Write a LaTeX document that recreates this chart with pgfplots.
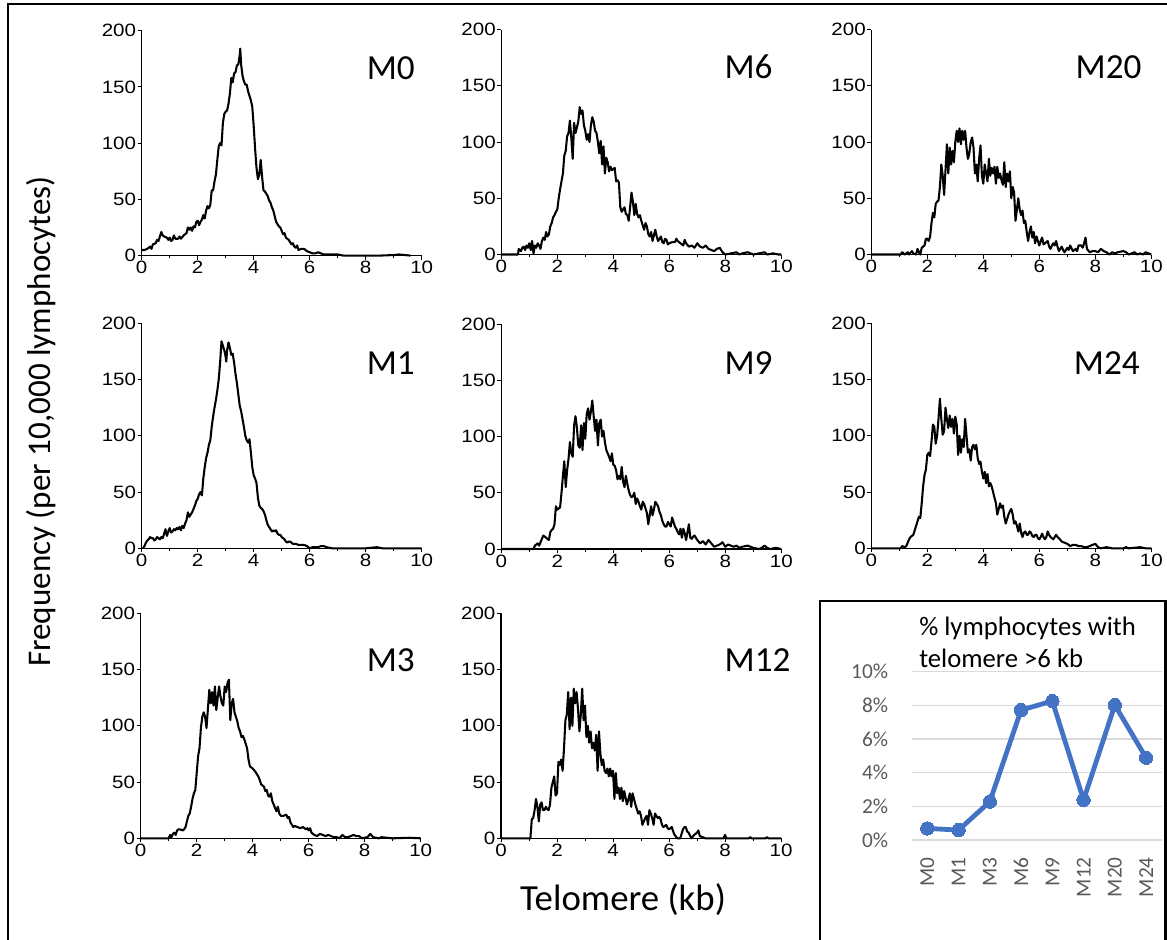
\documentclass[border=0pt]{standalone}
\usepackage{pgfplots}
\pgfplotsset{compat=1.18}
\usepackage{fontspec}
\setmainfont{Carlito}
\newfontfamily\tickfont[FakeStretch=1.15]{Liberation Sans}
\definecolor{xlblue}{HTML}{4472C4}
\definecolor{xlgrid}{HTML}{D9D9D9}
\definecolor{xltext}{HTML}{595959}

\pgfplotsset{
  hist/.style={
    scale only axis, width=210pt, height=168.75pt,
    anchor=south west,
    xmin=0, xmax=10, ymin=0, ymax=200,
    axis x line*=bottom, axis y line*=left,
    xtick={0,2,...,10}, ytick={0,50,...,200},
    minor xtick={1,3,...,9},
    tick align=outside,
    major tick length=3pt, minor tick length=2pt,
    tick style={black, line width=0.6pt},
    axis line style={black, line width=0.9pt},
    /pgf/number format/assume math mode=true,
    ticklabel style={font=\tickfont\fontsize{13.4pt}{15pt}\selectfont, inner sep=1pt},
    clip=false,
  },
  curve/.style={black, line width=1.55pt, line join=round, no marks},
}

\begin{document}
\begin{tikzpicture}
\useasboundingbox (0,0) rectangle (1167*0.75pt,-939*0.75pt);

% ---- row 1 ----
\begin{axis}[hist, at={(141.7*0.75pt,-255.6*0.75pt)}]
\addplot[curve] coordinates {(0,5)(0.1,5)(0.2,6)(0.3,8)(0.35,6)(0.4,10)(0.5,11)(0.55,14)(0.6,13)(0.65,17)(0.7,21)(0.75,18)(0.8,17)(0.9,16)(0.95,14)(1.0,16)(1.05,13)(1.1,14)(1.15,18)(1.2,15)(1.3,15)(1.35,17)(1.4,15)(1.5,18)(1.6,20)(1.65,25)(1.7,23)(1.75,25)(1.8,22)(1.85,26)(1.9,25)(1.95,30)(2.0,31)(2.05,27)(2.1,30)(2.15,32)(2.2,36)(2.25,33)(2.3,40)(2.35,44)(2.4,42)(2.45,45)(2.5,58)(2.55,58)(2.6,66)(2.65,72)(2.7,85)(2.75,97)(2.8,100)(2.85,98)(2.9,118)(2.95,126)(3.0,128)(3.05,129)(3.1,135)(3.15,144)(3.2,158)(3.25,154)(3.3,162)(3.35,163)(3.4,169)(3.45,170)(3.5,178)(3.52,184)(3.55,170)(3.6,160)(3.65,155)(3.7,152)(3.75,152)(3.8,146)(3.85,142)(3.9,138)(3.95,132)(4.0,115)(4.05,95)(4.1,78)(4.15,68)(4.2,72)(4.25,85)(4.3,70)(4.35,58)(4.4,57)(4.45,55)(4.5,53)(4.55,49)(4.6,47)(4.65,43)(4.7,40)(4.75,35)(4.8,30)(4.85,28)(4.9,26)(4.95,25)(5.0,22)(5.05,19)(5.1,20)(5.15,16)(5.2,15)(5.25,14)(5.3,12)(5.35,10)(5.4,11)(5.45,8)(5.5,7)(5.55,9)(5.6,5)(5.7,6)(5.8,6)(5.9,4)(6.0,3)(6.1,2)(6.2,2)(6.3,3)(6.4,2)(6.5,1)(6.6,1)(6.8,1)(7.0,1)(7.2,0)(8.0,0)(8.5,0)(9.0,0.5)(9.2,1)(9.4,0.5)(9.6,0)};
\end{axis}

\begin{axis}[hist, at={(501.3*0.75pt,-254.5*0.75pt)}]
\addplot[curve] coordinates {(0,0)(0.6,0)(0.62,5)(0.7,3)(0.75,6)(0.8,7)(0.85,4)(0.9,8)(0.95,6)(1.0,10)(1.05,4)(1.1,12)(1.15,1)(1.2,8)(1.25,6)(1.3,10)(1.35,8)(1.4,5)(1.45,12)(1.5,15)(1.55,13)(1.6,20)(1.65,16)(1.7,18)(1.75,25)(1.8,28)(1.85,33)(1.9,35)(1.95,38)(2.0,40)(2.05,50)(2.1,58)(2.15,65)(2.2,72)(2.25,88)(2.3,92)(2.35,105)(2.4,108)(2.45,119)(2.5,104)(2.55,85)(2.6,117)(2.65,108)(2.7,113)(2.75,118)(2.8,131)(2.85,125)(2.9,128)(2.95,115)(3.0,110)(3.05,102)(3.1,107)(3.15,100)(3.2,115)(3.25,122)(3.3,118)(3.35,110)(3.4,108)(3.45,100)(3.5,90)(3.55,101)(3.6,80)(3.65,96)(3.7,72)(3.75,86)(3.8,82)(3.85,74)(3.9,78)(3.95,75)(4.0,76)(4.05,77)(4.1,65)(4.15,66)(4.2,64)(4.25,42)(4.3,38)(4.35,40)(4.4,42)(4.45,36)(4.5,35)(4.55,30)(4.6,42)(4.65,55)(4.7,47)(4.75,35)(4.8,45)(4.85,36)(4.9,33)(4.95,35)(5.0,30)(5.05,26)(5.1,22)(5.15,28)(5.2,25)(5.25,18)(5.3,16)(5.35,20)(5.4,12)(5.45,17)(5.5,22)(5.55,16)(5.6,12)(5.65,14)(5.7,16)(5.75,11)(5.8,10)(5.85,14)(5.9,13)(5.95,9)(6.0,10)(6.1,11)(6.2,11)(6.25,14)(6.3,12)(6.4,10)(6.5,8)(6.55,13)(6.6,10)(6.7,7)(6.8,8)(6.9,6)(7.0,10)(7.1,7)(7.2,6)(7.3,8)(7.4,5)(7.5,4)(7.6,3)(7.7,5)(7.8,6)(7.9,2)(8.0,0)(8.2,1)(8.4,2)(8.5,0)(8.6,1)(8.8,2)(9.0,0)(9.2,1)(9.4,2)(9.5,0)(9.7,1)(9.9,0)(10,0)};
\end{axis}

\begin{axis}[hist, at={(871.3*0.75pt,-254.5*0.75pt)}]
\addplot[curve] coordinates {(0,0)(1.05,0)(1.1,2)(1.2,0)(1.3,2)(1.35,0)(1.45,3)(1.5,1)(1.6,0)(1.65,5)(1.7,2)(1.75,0)(1.8,6)(1.85,7)(1.9,8)(1.95,14)(2.0,14)(2.05,12)(2.1,16)(2.15,28)(2.2,37)(2.25,33)(2.3,45)(2.35,47)(2.4,48)(2.45,60)(2.5,80)(2.55,70)(2.6,53)(2.65,75)(2.7,98)(2.75,72)(2.8,95)(2.85,80)(2.9,92)(2.95,82)(3.0,100)(3.05,110)(3.1,100)(3.15,112)(3.2,98)(3.25,110)(3.3,102)(3.35,110)(3.4,95)(3.45,85)(3.5,90)(3.55,100)(3.6,104)(3.65,95)(3.7,72)(3.75,80)(3.8,65)(3.85,85)(3.9,97)(3.95,70)(4.0,63)(4.05,80)(4.1,72)(4.15,65)(4.2,85)(4.25,70)(4.3,77)(4.35,72)(4.4,78)(4.45,63)(4.5,78)(4.55,68)(4.6,72)(4.65,66)(4.7,62)(4.75,82)(4.8,60)(4.85,72)(4.9,65)(4.95,74)(5.0,50)(5.05,60)(5.1,55)(5.15,30)(5.2,40)(5.25,50)(5.3,40)(5.35,35)(5.4,39)(5.45,28)(5.5,30)(5.55,20)(5.6,12)(5.65,20)(5.7,25)(5.75,15)(5.8,20)(5.85,10)(5.9,16)(5.95,12)(6.0,8)(6.05,12)(6.1,15)(6.15,9)(6.2,10)(6.3,12)(6.35,7)(6.4,5)(6.45,8)(6.5,10)(6.55,8)(6.6,12)(6.65,7)(6.7,3)(6.8,7)(6.85,4)(6.9,2)(7.0,6)(7.05,4)(7.1,8)(7.2,3)(7.3,5)(7.35,3)(7.4,8)(7.5,8)(7.55,6)(7.6,10)(7.65,15)(7.7,5)(7.8,2)(7.9,3)(8.0,3)(8.1,2)(8.2,5)(8.3,3)(8.4,2)(8.5,0)(8.6,2)(8.7,1)(8.8,2)(9.0,3)(9.1,2)(9.2,0)(9.4,2)(9.5,0)(9.6,1)(9.7,0)(9.8,2)(9.9,1)(10,0)};
\end{axis}

% ---- row 2 ----
\begin{axis}[hist, at={(141.7*0.75pt,-548.3*0.75pt)}]
\addplot[curve] coordinates {(0.05,0)(0.1,2)(0.15,5)(0.2,7)(0.25,8)(0.3,10)(0.35,9)(0.4,9)(0.45,7)(0.5,8)(0.55,10)(0.6,9)(0.65,8)(0.7,10)(0.75,9)(0.8,13)(0.85,17)(0.9,11)(0.95,15)(1.0,18)(1.05,14)(1.1,15)(1.15,17)(1.2,16)(1.25,18)(1.3,17)(1.35,19)(1.4,16)(1.45,20)(1.5,18)(1.55,22)(1.6,25)(1.65,32)(1.7,28)(1.75,30)(1.8,32)(1.85,35)(1.9,38)(1.95,42)(2.0,44)(2.05,48)(2.1,50)(2.15,47)(2.2,62)(2.25,72)(2.3,80)(2.35,85)(2.4,92)(2.45,96)(2.5,108)(2.55,117)(2.6,125)(2.65,132)(2.7,140)(2.75,150)(2.8,165)(2.85,184)(2.9,180)(2.95,176)(3.0,170)(3.02,166)(3.05,176)(3.1,183)(3.15,178)(3.2,172)(3.25,173)(3.3,165)(3.35,155)(3.4,147)(3.45,137)(3.5,127)(3.55,122)(3.6,115)(3.65,108)(3.7,100)(3.75,96)(3.8,94)(3.85,97)(3.9,85)(3.95,72)(4.0,65)(4.05,62)(4.1,58)(4.15,45)(4.2,38)(4.25,36)(4.3,35)(4.35,33)(4.4,30)(4.45,25)(4.5,21)(4.55,19)(4.6,17)(4.65,15)(4.7,16)(4.75,15)(4.8,16)(4.85,13)(4.9,12)(4.95,12)(5.0,10)(5.05,9)(5.1,8)(5.15,6)(5.2,5)(5.25,6)(5.3,6)(5.35,5)(5.4,4)(5.5,4)(5.6,3)(5.7,3)(5.8,3)(5.9,2)(6.0,0)(6.1,1)(6.2,1)(6.3,1)(6.4,2)(6.5,2)(6.6,1)(6.8,0)(7.5,0)(8.0,0)(8.4,1)(8.6,0)(10,0)};
\end{axis}

\begin{axis}[hist, at={(501.3*0.75pt,-549*0.75pt)}]
\addplot[curve] coordinates {(0,0)(1.15,0)(1.2,3)(1.25,4)(1.3,5)(1.35,3)(1.4,6)(1.45,9)(1.5,12)(1.55,11)(1.6,10)(1.65,9)(1.7,8)(1.75,15)(1.8,17)(1.85,18)(1.9,22)(1.95,38)(2.0,35)(2.05,36)(2.1,37)(2.15,50)(2.2,65)(2.25,78)(2.3,55)(2.35,70)(2.4,80)(2.45,95)(2.5,85)(2.55,82)(2.6,110)(2.65,118)(2.7,108)(2.75,92)(2.8,90)(2.85,110)(2.9,88)(2.95,112)(3.0,98)(3.05,120)(3.1,125)(3.15,115)(3.2,122)(3.25,132)(3.3,118)(3.35,105)(3.4,115)(3.45,92)(3.5,112)(3.55,115)(3.6,100)(3.65,105)(3.7,95)(3.75,88)(3.8,85)(3.85,82)(3.9,78)(3.95,85)(4.0,75)(4.05,74)(4.1,70)(4.15,62)(4.2,65)(4.25,62)(4.3,73)(4.35,60)(4.4,55)(4.45,65)(4.5,58)(4.55,52)(4.6,48)(4.65,46)(4.7,47)(4.75,50)(4.8,40)(4.85,45)(4.9,42)(4.95,38)(5.0,35)(5.05,42)(5.1,40)(5.15,36)(5.2,32)(5.25,22)(5.3,30)(5.35,38)(5.4,30)(5.45,35)(5.5,42)(5.55,40)(5.6,38)(5.65,33)(5.7,30)(5.75,25)(5.8,22)(5.85,20)(5.9,20)(5.95,24)(6.0,22)(6.05,20)(6.1,28)(6.15,24)(6.2,20)(6.25,18)(6.3,15)(6.35,13)(6.4,18)(6.45,10)(6.5,18)(6.55,14)(6.6,8)(6.65,15)(6.7,22)(6.75,10)(6.8,9)(6.85,11)(6.9,12)(6.95,10)(7.0,8)(7.1,5)(7.2,7)(7.3,4)(7.4,8)(7.5,5)(7.6,2)(7.7,3)(7.8,4)(7.9,6)(8.0,2)(8.1,4)(8.2,3)(8.3,2)(8.4,3)(8.5,1)(8.6,2)(8.8,3)(9.0,1)(9.2,0)(9.3,1)(9.4,3)(9.5,1)(9.6,0)(9.8,1)(10,0)};
\end{axis}

\begin{axis}[hist, at={(871.3*0.75pt,-548.3*0.75pt)}]
\addplot[curve] coordinates {(0,0)(1.05,0)(1.1,2)(1.2,1)(1.25,2)(1.3,5)(1.35,8)(1.4,10)(1.45,11)(1.5,12)(1.55,16)(1.6,20)(1.65,24)(1.7,28)(1.75,27)(1.8,40)(1.85,55)(1.9,65)(1.95,70)(2.0,83)(2.05,85)(2.1,82)(2.15,95)(2.2,110)(2.25,108)(2.3,93)(2.35,100)(2.4,115)(2.45,133)(2.5,115)(2.55,101)(2.6,104)(2.65,125)(2.7,115)(2.75,107)(2.8,118)(2.85,108)(2.9,115)(2.95,102)(3.0,117)(3.05,110)(3.1,83)(3.15,100)(3.2,85)(3.25,97)(3.3,90)(3.35,115)(3.4,100)(3.45,85)(3.5,88)(3.55,78)(3.6,90)(3.65,92)(3.7,88)(3.75,92)(3.8,80)(3.85,75)(3.9,77)(3.95,68)(4.0,62)(4.05,68)(4.1,58)(4.15,66)(4.2,55)(4.25,58)(4.3,55)(4.35,50)(4.4,45)(4.45,40)(4.5,30)(4.55,35)(4.6,40)(4.65,36)(4.7,38)(4.75,28)(4.8,22)(4.85,26)(4.9,30)(4.95,33)(5.0,35)(5.05,30)(5.1,22)(5.15,24)(5.2,20)(5.25,15)(5.3,22)(5.35,14)(5.4,10)(5.45,14)(5.5,15)(5.55,12)(5.6,12)(5.65,15)(5.7,14)(5.75,11)(5.8,10)(5.85,12)(5.9,12)(5.95,9)(6.0,8)(6.05,10)(6.1,13)(6.15,10)(6.2,8)(6.25,10)(6.3,15)(6.35,12)(6.4,10)(6.5,8)(6.55,10)(6.6,12)(6.65,10)(6.7,9)(6.8,6)(6.9,5)(7.0,4)(7.1,2)(7.2,3)(7.3,3)(7.4,2)(7.5,2)(7.6,1)(7.7,1)(7.8,2)(7.9,3)(8.0,4)(8.1,1)(8.2,0)(8.4,1)(8.6,0)(9.0,0)(9.1,1)(9.2,0)(9.6,1)(9.8,0)(10,0)};
\end{axis}

% ---- row 3 ----
\begin{axis}[hist, at={(140.7*0.75pt,-838.3*0.75pt)}]
\addplot[curve] coordinates {(0,0)(1.0,0)(1.05,3)(1.1,1)(1.15,4)(1.2,5)(1.25,3)(1.3,7)(1.35,8)(1.4,8)(1.5,7)(1.55,8)(1.6,10)(1.65,15)(1.7,20)(1.75,22)(1.8,28)(1.85,35)(1.9,40)(1.95,43)(2.0,58)(2.05,73)(2.1,80)(2.15,98)(2.2,108)(2.25,112)(2.3,108)(2.35,98)(2.4,115)(2.45,132)(2.5,120)(2.55,130)(2.6,118)(2.65,135)(2.7,114)(2.75,125)(2.8,135)(2.85,126)(2.9,120)(2.95,118)(3.0,135)(3.05,130)(3.1,138)(3.15,141)(3.2,105)(3.25,120)(3.3,124)(3.35,112)(3.4,108)(3.45,104)(3.5,98)(3.55,95)(3.6,90)(3.65,91)(3.7,88)(3.75,84)(3.8,80)(3.85,70)(3.9,64)(3.95,63)(4.0,62)(4.1,59)(4.2,55)(4.25,52)(4.3,48)(4.4,46)(4.45,42)(4.5,43)(4.55,38)(4.6,37)(4.65,40)(4.7,33)(4.75,30)(4.8,27)(4.85,24)(4.9,28)(4.95,22)(5.0,20)(5.1,20)(5.2,21)(5.25,18)(5.3,19)(5.35,14)(5.4,12)(5.45,10)(5.5,11)(5.6,10)(5.7,9)(5.8,10)(5.9,8)(5.95,9)(6.0,7)(6.05,9)(6.1,5)(6.2,3)(6.3,2)(6.4,4)(6.5,3)(6.6,2)(6.7,3)(6.8,2)(6.9,1)(7.0,1)(7.1,0)(7.2,3)(7.3,1)(7.4,1)(7.6,3)(7.7,2)(7.8,2)(7.9,0)(8.1,1)(8.2,4)(8.3,1)(8.5,0)(8.6,1)(8.8,0.5)(9.0,0)(9.6,0.5)(10,0)};
\end{axis}

\begin{axis}[hist, at={(501*0.75pt,-838.3*0.75pt)}]
\addplot[curve] coordinates {(0,0)(1.05,0)(1.1,17)(1.15,18)(1.2,25)(1.25,35)(1.3,28)(1.35,15)(1.4,30)(1.45,32)(1.5,25)(1.55,25)(1.6,28)(1.65,26)(1.7,25)(1.75,30)(1.8,45)(1.85,50)(1.9,55)(1.95,38)(2.0,40)(2.05,68)(2.1,65)(2.15,70)(2.2,60)(2.25,80)(2.3,105)(2.35,110)(2.4,130)(2.45,97)(2.5,125)(2.55,100)(2.6,133)(2.65,120)(2.7,130)(2.75,115)(2.8,95)(2.85,110)(2.9,133)(2.95,105)(3.0,118)(3.05,90)(3.1,100)(3.15,85)(3.2,95)(3.25,80)(3.3,85)(3.35,78)(3.4,92)(3.45,60)(3.5,95)(3.55,75)(3.6,65)(3.65,70)(3.7,60)(3.75,58)(3.8,62)(3.85,55)(3.9,62)(3.95,55)(4.0,60)(4.05,35)(4.1,58)(4.15,40)(4.2,45)(4.25,35)(4.3,45)(4.35,33)(4.4,42)(4.45,36)(4.5,30)(4.55,35)(4.6,40)(4.65,28)(4.7,40)(4.75,35)(4.8,30)(4.85,26)(4.9,22)(4.95,24)(5.0,20)(5.05,12)(5.1,15)(5.15,18)(5.2,20)(5.25,12)(5.3,25)(5.35,22)(5.4,18)(5.45,12)(5.5,22)(5.55,20)(5.6,18)(5.65,19)(5.7,17)(5.75,12)(5.8,10)(5.85,11)(5.9,12)(5.95,9)(6.0,8)(6.05,9)(6.1,10)(6.15,6)(6.2,3)(6.3,0)(6.4,0)(6.5,8)(6.55,10)(6.6,10)(6.65,6)(6.7,5)(6.8,0)(6.9,3)(7.0,5)(7.05,7)(7.1,2)(7.2,1)(7.3,0)(7.95,0)(8.0,3)(8.05,0)(8.85,0)(8.9,1)(8.95,0)(9.45,0)(9.5,1)(9.55,0)(10,0)};
\end{axis}

% ---- inset ----
\begin{axis}[at={(911.7*0.75pt,-840*0.75pt)}, anchor=south west,
  scale only axis, width=187.5pt, height=126.2pt,
  xmin=-0.5, xmax=7.5, ymin=0, ymax=10,
  xtick={0,...,7}, xticklabels={M0,M1,M3,M6,M9,M12,M20,M24},
  ytick={0,2,...,10}, yticklabel={\pgfmathprintnumber{\tick}\%},
  ymajorgrids, grid style={xlgrid, line width=1.1pt},
  axis line style={draw=none}, major tick length=0pt,
  /pgf/number format/assume math mode=true,
  ticklabel style={font=\fontsize{16pt}{18pt}\selectfont, text=xltext},
  yticklabel style={inner sep=0pt, xshift=-17.5pt},
  xticklabel style={rotate=90, anchor=east, inner sep=0pt, xshift=-12.75pt},
  clip=false]
\addplot[xlblue, line width=3.6pt, mark=*, mark size=5pt,
  mark options={fill=xlblue, draw=xlblue, line width=0pt}]
  coordinates {(0,0.69)(1,0.59)(2,2.28)(3,7.72)(4,8.26)(5,2.38)(6,8.02)(7,4.89)};
\end{axis}

\begin{scope}[x=0.75pt, y=-0.75pt]
% frames
\draw[line width=1.6pt] (8.3,945) -- (8.3,4) -- (1172,4);
\draw[line width=1.8pt] (820,945) -- (820,601) -- (1165.5,601) -- (1165.5,945);
% panel names
\foreach \nx/\ny/\nm in {415/79/M0, 772.7/78.3/M6, 1141.7/78.3/M20,
                          415/374/M1, 772.7/374/M9, 1140/374/M24,
                          415/671/M3, 790.7/671/M12}
  \node[anchor=base east, inner sep=0pt, font=\fontsize{26.4pt}{30pt}\selectfont] at (\nx,\ny) {\nm};
% axis titles
\node[rotate=90, anchor=base, inner sep=0pt, font=\fontsize{24.8pt}{28pt}\selectfont] at (50,421.5) {Frequency (per 10,000 lymphocytes)};
\node[anchor=base, inner sep=0pt, font=\fontsize{27.6pt}{30pt}\selectfont] at (623,910) {Telomere (kb)};
% inset title
\node[anchor=base west, inner sep=0pt, font=\fontsize{20pt}{24pt}\selectfont] at (919,635) {\% lymphocytes with};
\node[anchor=base west, inner sep=0pt, font=\fontsize{20pt}{24pt}\selectfont] at (919,667) {telomere >6 kb};
\end{scope}
\end{tikzpicture}
\end{document}
